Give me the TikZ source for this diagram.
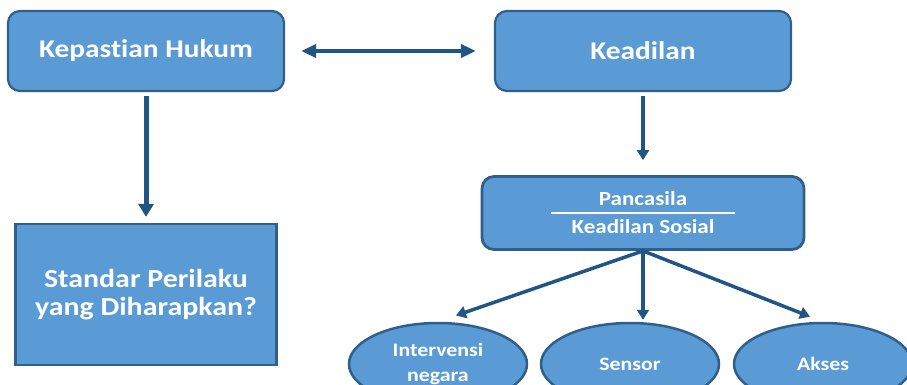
\documentclass[tikz,border=0pt]{standalone}
\usepackage{fontspec}
\setmainfont[FakeStretch=1.15,Ligatures=NoCommon]{Carlito}
\usepackage{xcolor}
\definecolor{boxfill}{HTML}{5B9BD5}
\definecolor{boxline}{HTML}{2F5F8A}
\definecolor{arrowc}{HTML}{215584}
\usepackage{tikz}
\usetikzlibrary{shapes,shapes.geometric,arrows,arrows.meta}
\usetikzlibrary{positioning}
\tikzstyle{block} = [rectangle, draw=boxline, fill=boxfill, line width=2.2pt,
    text=white, font=\bfseries, align=center, inner sep=0pt, rounded corners=12pt]
\tikzstyle{oval} = [ellipse, draw=boxline, fill=boxfill, line width=2.5pt,
    text=white, font=\bfseries\fontsize{19}{25}\selectfont, align=center,
    inner sep=0pt, minimum width=178pt, minimum height=82pt]
\tikzstyle{line} = [draw, arrowc, line width=3.5pt, -{Triangle[length=10pt,width=12pt]}]

\begin{document}
\begin{tikzpicture}[x=1pt,y=1pt,node distance=100pt]
    \useasboundingbox (0,0) rectangle (907,-385);
    % Place nodes
    \node [block, minimum width=276pt, minimum height=80pt,
        font=\bfseries\fontsize{25.5}{28}\selectfont] (hukum) at (146,-51) {Kepastian Hukum};
    \node [block, minimum width=296pt, minimum height=80pt, node distance=497pt,
        font=\bfseries\fontsize{25.5}{28}\selectfont, right of=hukum] (adil) {Keadilan};
    \node [block, sharp corners, minimum width=261pt, minimum height=141pt, node distance=243.5pt,
        font=\bfseries\fontsize{26}{28.5}\selectfont, below of=hukum] (standar) {Standar Perilaku\\yang Diharapkan?};
    \node [block, line width=2.8pt, minimum width=322pt, minimum height=73pt, node distance=162pt,
        font=\bfseries\fontsize{20}{28}\selectfont, below of=adil] (pancasila) {Pancasila\\Keadilan Sosial};
    \node [oval, node distance=151pt, xshift=-13pt, below of=pancasila] (sensor) {Sensor};
    \node [oval, node distance=192pt, left of=sensor] (intervensi) {Intervensi\\negara};
    \node [oval, node distance=193pt, right of=sensor] (akses) {Akses};

    % line under Pancasila
    \draw [white, line width=2pt] ([xshift=-92pt]pancasila.center) -- ([xshift=92pt]pancasila.center);

    % Draw edges
    \path [line, line width=4pt, {Triangle[length=15pt,width=13pt]}-{Triangle[length=15pt,width=13pt]},
        shorten <=16pt, shorten >=18pt] (hukum) -- (adil);
    \path [line, line width=5pt, -{Triangle[length=13pt,width=15pt]},
        shorten <=4pt, shorten >=6pt] (hukum) -- (standar);
    \path [line, shorten <=4pt, shorten >=15pt] (adil) -- (pancasila);
    \path [line, shorten >=19pt] (pancasila.south) -- (intervensi.north);
    \path [line, shorten >=2pt] (pancasila.south) -- (pancasila.south |- sensor.north);
    \path [line, shorten >=14pt] (pancasila.south) -- (akses.north);
\end{tikzpicture}
\end{document}
